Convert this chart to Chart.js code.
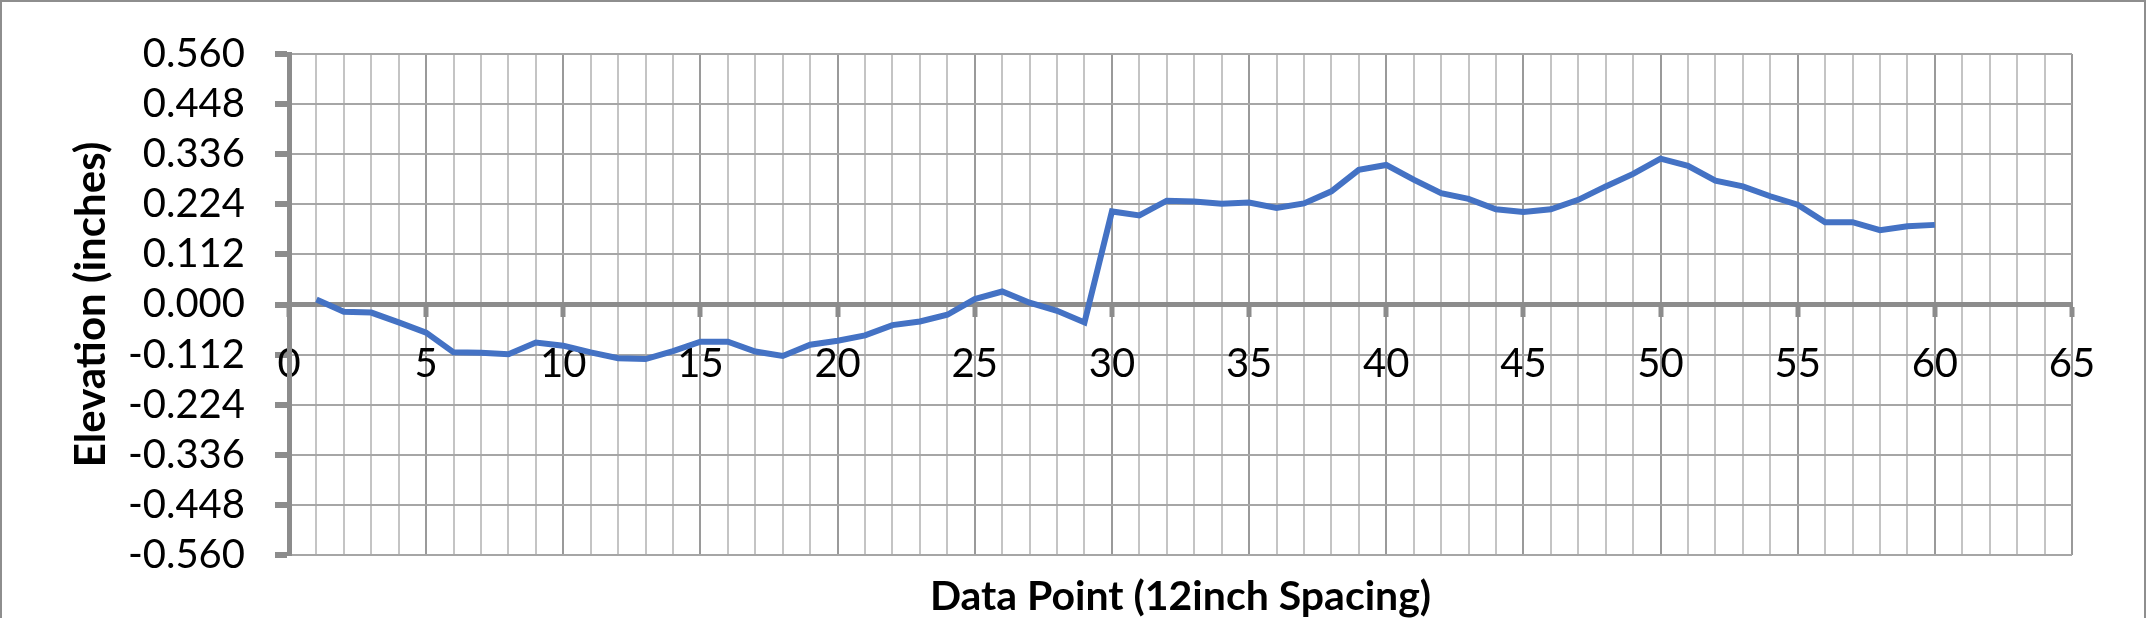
<!DOCTYPE html>
<html lang="en">
<head>
    <meta charset="UTF-8">
    <title>Elevation Profile</title>
    <script src="https://cdn.jsdelivr.net/npm/chart.js"></script>
    <style>
        html, body {
            margin: 0;
            padding: 0;
            background-color: #fff;
        }

        .wrap {
            position: relative;
            width: 2147px;
            height: 618px;
            overflow: hidden;
        }

        .frame {
            position: absolute;
            left: 0;
            top: 0;
            width: 2142px;
            height: 640px;
            border: 2px solid #8e8e8e;
            pointer-events: none;
        }
    </style>
</head>
<body>
    <div class="wrap">
        <canvas id="elevChart" width="2147" height="618"></canvas>
        <div class="frame"></div>
    </div>

    <script>
        // data
        const dataPoints = [1, 2, 3, 4, 5, 6, 7, 8, 9, 10, 11, 12, 13, 14, 15, 16, 17, 18, 19, 20,
            21, 22, 23, 24, 25, 26, 27, 28, 29, 30, 31, 32, 33, 34, 35, 36, 37, 38, 39, 40,
            41, 42, 43, 44, 45, 46, 47, 48, 49, 50, 51, 52, 53, 54, 55, 56, 57, 58, 59, 60];
        const elevations = [0.011, -0.016, -0.018, -0.040, -0.063, -0.107, -0.108, -0.111, -0.085, -0.092,
            -0.107, -0.120, -0.122, -0.104, -0.083, -0.083, -0.105, -0.115, -0.090, -0.081,
            -0.069, -0.046, -0.038, -0.023, 0.012, 0.029, 0.004, -0.014, -0.040, 0.208,
            0.199, 0.232, 0.230, 0.225, 0.228, 0.216, 0.226, 0.253, 0.301, 0.312,
            0.279, 0.249, 0.236, 0.213, 0.207, 0.213, 0.234, 0.264, 0.292, 0.326,
            0.310, 0.277, 0.264, 0.242, 0.223, 0.184, 0.184, 0.166, 0.175, 0.178];
        const yTickValues = [-0.560, -0.448, -0.336, -0.224, -0.112, 0.000, 0.112, 0.224, 0.336, 0.448, 0.560];
        const xLabelValues = [0, 5, 10, 15, 20, 25, 30, 35, 40, 45, 50, 55, 60, 65];

        const tickFont = { family: 'Lato, sans-serif', size: 40 };
        const titleFont = { family: 'Lato, sans-serif', size: 42, weight: 'bold' };

        const ctx = document.getElementById('elevChart').getContext('2d');
        new Chart(ctx, {
            type: 'line',
            data: {
                datasets: [{
                    label: 'Elevation',
                    data: dataPoints.map((p, i) => ({ x: p, y: elevations[i] })),
                    borderColor: '#4472C4',
                    borderWidth: 6,
                    pointRadius: 0,
                    tension: 0,
                    fill: false
                }]
            },
            options: {
                responsive: false,
                animation: false,
                layout: {
                    padding: { top: 52, right: 75, left: 0, bottom: 0 }
                },
                plugins: {
                    legend: { display: false },
                    tooltip: { enabled: false },
                    title: {
                        display: true,
                        position: 'bottom',
                        fullSize: false,
                        text: 'Data Point (12inch Spacing)',
                        color: '#000',
                        font: { family: 'Lato, sans-serif', size: 41, weight: 'bold', lineHeight: 1 },
                        padding: { top: 21, bottom: 1 }
                    }
                },
                scales: {
                    x: {
                        type: 'linear',
                        min: 0,
                        max: 65,
                        position: { y: 0 },
                        afterFit: function (scale) {
                            scale.height = 0;
                        },
                        ticks: {
                            stepSize: 1,
                            autoSkip: false,
                            maxRotation: 0,
                            color: '#000',
                            font: tickFont,
                            padding: 26,
                            callback: v => xLabelValues.includes(v) ? String(v) : ''
                        },
                        grid: {
                            color: c => (c.tick && c.tick.value % 5 === 0) ? '#9a9a9a' : '#c4c4c4',
                            lineWidth: 2,
                            tickLength: 10,
                            tickWidth: 5,
                            tickColor: c => (c.tick && c.tick.value % 5 === 0) ? '#8c8c8c' : 'rgba(0,0,0,0)'
                        },
                        border: { color: '#8c8c8c', width: 5 }
                    },
                    y: {
                        min: -0.56,
                        max: 0.56,
                        afterBuildTicks: function (scale) {
                            scale.ticks = yTickValues.map(v => ({ value: v }));
                        },
                        afterFit: function (scale) {
                            scale.width = 289;
                        },
                        ticks: {
                            autoSkip: false,
                            color: '#000',
                            font: tickFont,
                            padding: 30,
                            callback: v => v.toFixed(3)
                        },
                        grid: {
                            color: '#a6a6a6',
                            lineWidth: 2,
                            tickLength: 14,
                            tickWidth: 6,
                            tickColor: '#8c8c8c'
                        },
                        border: { color: '#8c8c8c', width: 5 },
                        title: {
                            display: true,
                            text: 'Elevation (inches)',
                            color: '#000',
                            font: titleFont,
                            padding: { top: 66, bottom: 0 }
                        }
                    }
                }
            }
        });
    </script>
</body>
</html>
